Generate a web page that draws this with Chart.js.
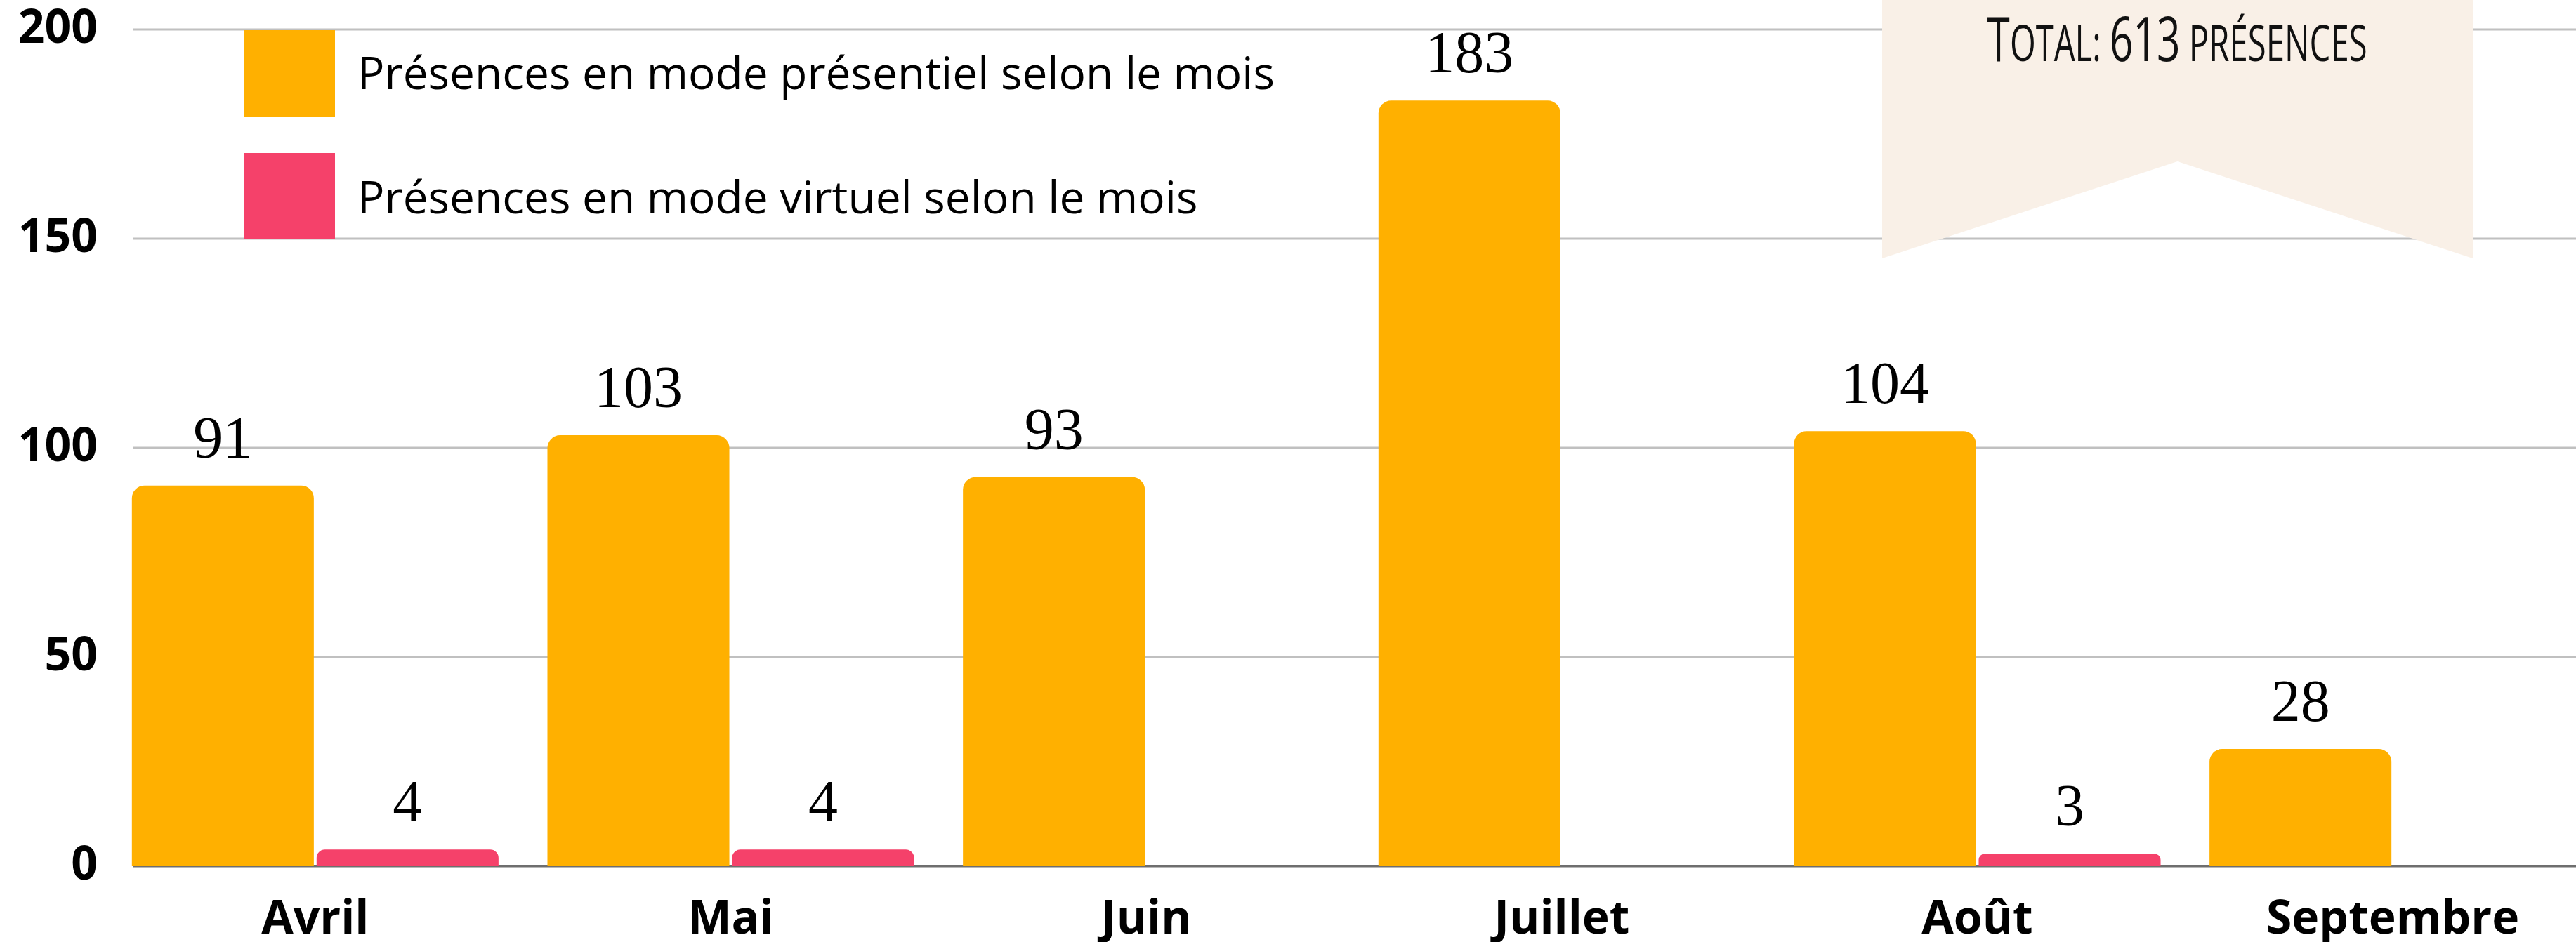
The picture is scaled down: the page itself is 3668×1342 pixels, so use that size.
<!DOCTYPE html>
<html>
<head>
<meta charset="utf-8">
<script src="https://cdn.jsdelivr.net/npm/chart.js@4.4.0/dist/chart.umd.min.js"></script>
<style>
  html, body { margin: 0; padding: 0; background: #ffffff; overflow: hidden; }
  #wrap { position: relative; width: 3668px; height: 1342px; overflow: hidden; background: #fff; }
  #chart { position: absolute; left: 0; top: 0; }
  .lbox { position: absolute; left: 348px; width: 129px; height: 123px; }
  .ltext { position: absolute; left: 509px; font-family: "Open Sans", sans-serif; font-size: 64px; line-height: 64px; color: #000; white-space: nowrap; }
  #banner { position: absolute; left: 2680px; top: 0; width: 841px; height: 368px; background: #f9f0e7;
            clip-path: polygon(0 0, 100% 0, 100% 100%, 50% 230px, 0 100%); }
  #bannerText { position: absolute; left: 0; top: 9px; width: 841px; text-align: center; white-space: nowrap; }
  #bannerInner { display: inline-block; font-family: "Open Sans", sans-serif; font-weight: 500; line-height: 88px; color: #111; transform-origin: center top; }
  .big { font-size: 88px; }
  .small { font-size: 71px; text-transform: uppercase; }
</style>
</head>
<body>
<div id="wrap">
  <canvas id="chart" width="3720" height="1342"></canvas>
  <div class="lbox" id="lb0" style="top:43px;"></div>
  <div class="ltext" id="lt0" style="top:71px;"></div>
  <div class="lbox" id="lb1" style="top:218px;"></div>
  <div class="ltext" id="lt1" style="top:248px;"></div>
  <div id="banner"><div id="bannerText"><span id="bannerInner"></span></div></div>
</div>
<script>
// ---- data ----
const categories = ['Avril', 'Mai', 'Juin', 'Juillet', 'Août', 'Septembre'];
const presentiel = [91, 103, 93, 183, 104, 28];
const virtuel = [4, 4, null, null, 3, null];
const seriesNames = ['Présences en mode présentiel selon le mois', 'Présences en mode virtuel selon le mois'];
const yMin = 0;
const yMax = 200;
const yStep = 50;
const totalParts = [['big', 'T'], ['small', 'otal: '], ['big', '613'], ['small', ' présences']];

// ---- styles ----
const colors = ['#FFB000', '#F5416A'];

// legend + banner (HTML text)
seriesNames.forEach((n, i) => {
  document.getElementById('lb' + i).style.background = colors[i];
  document.getElementById('lt' + i).textContent = n;
});
const bi = document.getElementById('bannerInner');
totalParts.forEach(([cls, txt]) => {
  const s = document.createElement('span');
  s.className = cls;
  s.textContent = txt;
  bi.appendChild(s);
});
const natural = bi.getBoundingClientRect().width;
bi.style.transform = 'scaleX(' + (541 / natural) + ')';

const gridPlugin = {
  id: 'customGrid',
  beforeDatasetsDraw(chart) {
    const ctx = chart.ctx;
    const y = chart.scales.y;
    ctx.save();
    y.ticks.forEach(t => {
      const py = y.getPixelForValue(t.value);
      ctx.beginPath();
      ctx.lineWidth = 3;
      ctx.strokeStyle = t.value === 0 ? '#6e6e6e' : '#c0c0c0';
      ctx.moveTo(189, py);
      ctx.lineTo(chart.width, py);
      ctx.stroke();
    });
    ctx.restore();
  }
};

const labelPlugin = {
  id: 'valueLabels',
  afterDatasetsDraw(chart) {
    const ctx = chart.ctx;
    ctx.save();
    ctx.font = '84px "Liberation Serif", serif';
    ctx.fillStyle = '#000';
    ctx.textAlign = 'center';
    ctx.textBaseline = 'alphabetic';
    chart.data.datasets.forEach((ds, di) => {
      const meta = chart.getDatasetMeta(di);
      meta.data.forEach((bar, i) => {
        const v = ds.data[i];
        if (v === null || v === undefined) return;
        ctx.fillText(String(v), bar.x, bar.y - 40);
      });
    });
    ctx.restore();
  }
};

new Chart(document.getElementById('chart'), {
  type: 'bar',
  data: {
    labels: categories,
    datasets: [
      { label: seriesNames[0], data: presentiel, backgroundColor: colors[0],
        borderRadius: { topLeft: 18, topRight: 18, bottomLeft: 0, bottomRight: 0 }, borderSkipped: false,
        categoryPercentage: 0.889, barPercentage: 0.985 },
      { label: seriesNames[1], data: virtuel, backgroundColor: colors[1],
        borderRadius: { topLeft: 18, topRight: 18, bottomLeft: 0, bottomRight: 0 }, borderSkipped: false,
        categoryPercentage: 0.889, barPercentage: 0.985 }
    ]
  },
  options: {
    responsive: false,
    animation: false,
    devicePixelRatio: 1,
    layout: { padding: { top: 42, right: 17, bottom: 0, left: 0 } },
    plugins: { legend: { display: false }, tooltip: { enabled: false } },
    scales: {
      x: {
        grid: { display: false, drawTicks: false },
        border: { display: false },
        ticks: { color: '#000', font: { family: '"Open Sans", sans-serif', size: 66, weight: 'bold' }, padding: 38, maxRotation: 0 },
        afterFit(scale) { scale.height = 108; scale.paddingLeft = 0; scale.paddingRight = 0; }
      },
      y: {
        min: yMin, max: yMax,
        grid: { display: false, drawTicks: false },
        border: { display: false },
        ticks: { stepSize: yStep, color: '#000', font: { family: '"Open Sans", sans-serif', size: 66, weight: 'bold' }, padding: 14 },
        afterFit(scale) { scale.width = 153; scale.paddingTop = 0; scale.paddingBottom = 0; }
      }
    }
  },
  plugins: [gridPlugin, labelPlugin]
});
</script>
</body>
</html>
